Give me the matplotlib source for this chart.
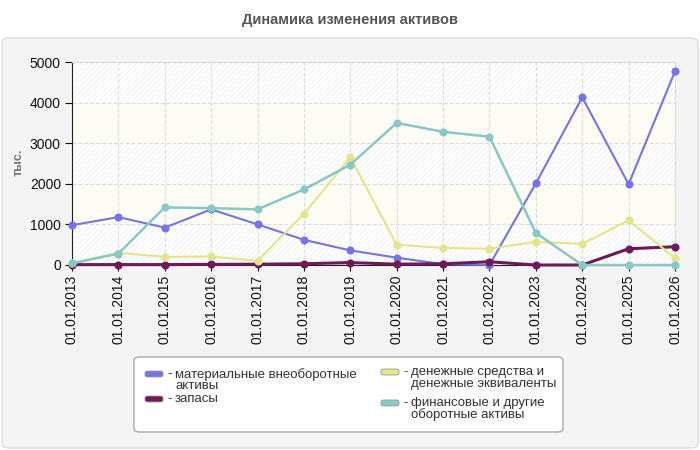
import numpy as np
import matplotlib.pyplot as plt
from matplotlib.patches import FancyBboxPatch

plt.rcParams['font.family'] = ['Liberation Sans', 'DejaVu Sans']
plt.rcParams['hatch.linewidth'] = 0.6

dates = ['01.01.2013', '01.01.2014', '01.01.2015', '01.01.2016', '01.01.2017',
         '01.01.2018', '01.01.2019', '01.01.2020', '01.01.2021', '01.01.2022',
         '01.01.2023', '01.01.2024', '01.01.2025', '01.01.2026']

material = [980, 1180, 920, 1370, 1000, 620, 360, 180, 20, 0, 2010, 4130, 1990, 4770]
zapasy = [10, 10, 10, 15, 20, 30, 60, 20, 30, 80, 0, 0, 400, 450]
dengi = [50, 300, 200, 210, 100, 1260, 2650, 500, 420, 400, 570, 520, 1100, 170]
finans = [40, 280, 1420, 1400, 1370, 1860, 2470, 3500, 3280, 3160, 790, 0, 0, 0]

names = ['материальные внеоборотные\nактивы', 'запасы',
         'денежные средства и\nденежные эквиваленты', 'финансовые и другие\nоборотные активы']
colors = ['#7474e8', '#6e1a58', '#e6e48a', '#88c8c6']
widths = [1.5, 2.2, 1.5, 1.8]
series = [material, zapasy, dengi, finans]

W, H = 700, 450
fig = plt.figure(figsize=(7, 4.5), dpi=100)
fig.patch.set_facecolor('white')

def fx(x):
    return x / W

def fy(y):
    return 1 - y / H

# серая панель
panel = FancyBboxPatch((fx(2), fy(448)), fx(696), 410 / H, boxstyle='round,pad=0,rounding_size=0.01',
                       transform=fig.transFigure, facecolor='#f4f4f4', edgecolor='#dddddd',
                       linewidth=1, zorder=-10)
fig.patches.append(panel)

fig.text(0.5, fy(20), 'Динамика изменения активов', ha='center', va='center',
         fontsize=10.5, fontweight='bold', color='#555555')

ax = fig.add_axes([fx(72), fy(265), fx(675 - 72), (265 - 62) / H])
ax.set_facecolor('white')
x = np.arange(len(dates))

# полосы фона
for i in range(5):
    if i % 2 == 0:
        ax.axhspan(i * 1000, (i + 1) * 1000, facecolor='white', edgecolor='#eeeeee',
                   hatch='//////', linewidth=0, zorder=0)
    else:
        ax.axhspan(i * 1000, (i + 1) * 1000, facecolor='#fcfcf4', linewidth=0, zorder=0)

for k in range(4):
    ax.plot(x, series[k], color=colors[k], linewidth=widths[k], marker='o', markersize=4.8,
            clip_on=False, zorder=3)

ax.set_xlim(0, len(dates) - 1)
ax.set_ylim(0, 5000)
ax.set_xticks(x)
ax.set_xticklabels(dates, rotation=90, fontsize=10, color='#111111')
ax.set_yticks([0, 1000, 2000, 3000, 4000, 5000])
ax.tick_params(axis='y', labelsize=10, length=5, pad=3, colors='#111111')
ax.tick_params(axis='x', length=4, pad=3, colors='#111111')
ax.grid(True, color='#dddddd', linestyle='--', linewidth=0.8)
ax.set_axisbelow(True)
for s in ['top', 'right']:
    ax.spines[s].set_color('#dddddd')
for s in ['left', 'bottom']:
    ax.spines[s].set_color('#222222')

fig.text(fx(19), fy(162), 'тыс.', rotation=90, ha='center', va='center',
         fontsize=9, fontweight='bold', color='#777777')

# легенда
leg = FancyBboxPatch((fx(134), fy(432)), fx(429), 75 / H, boxstyle='round,pad=0,rounding_size=0.008',
                     transform=fig.transFigure, facecolor='white', edgecolor='#aaaaaa',
                     linewidth=1, zorder=5)
fig.patches.append(leg)
pos = [(145, 374), (145, 399), (381, 372), (381, 403)]
for k in range(4):
    hx, hy = pos[k]
    fig.patches.append(FancyBboxPatch((fx(hx), fy(hy + 3)), fx(18), 6 / H,
                                      boxstyle='round,pad=0,rounding_size=0.004',
                                      transform=fig.transFigure, facecolor=colors[k],
                                      edgecolor='#999999', linewidth=0.6, zorder=6))
    fig.text(fx(hx + 22), fy(hy), '-', ha='left', va='center', fontsize=9.5, color='#333333', zorder=7)
    fig.text(fx(hx + 30), fy(hy - 6), names[k], ha='left', va='top', fontsize=9.5,
             color='#333333', linespacing=0.95, zorder=7)

fig.savefig('out.png', dpi=100)
